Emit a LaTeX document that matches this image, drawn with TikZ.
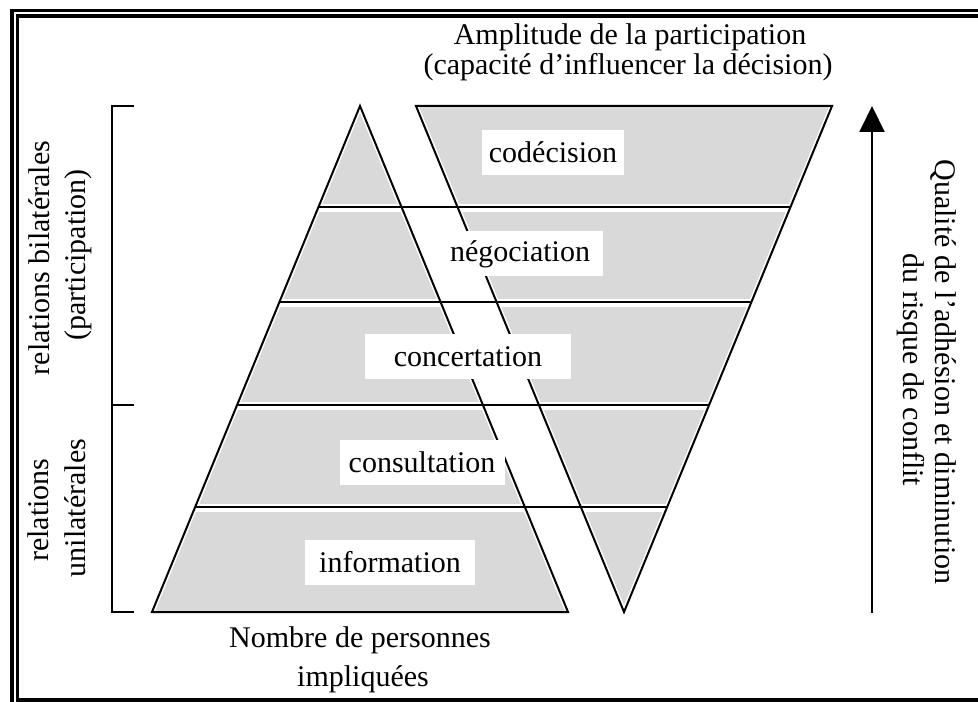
\documentclass[tikz,border=0pt]{standalone}
\usepackage{fontspec}
\setmainfont{Liberation Serif}
\usetikzlibrary{arrows.meta,calc}

\begin{document}
\begin{tikzpicture}[x=0.75pt,y=-0.75pt,
  outline/.style={line width=1.5pt, line join=miter},
  halo/.style={white, line width=3.75pt},
  lineglow/.style={white, line width=6pt},
  band/.style={fill=black!15},
  stepbox/.style={fill=white, inner sep=0pt, minimum height=33.75pt},
  lbl/.style={font=\fontsize{22.5}{25}\selectfont, inner sep=0pt},
]
\useasboundingbox (0,0) rectangle (978,702);
\fill[white] (0,0) rectangle (978,702);

% double frame
\draw[line width=2.6pt] (12,10.5) rectangle (992,714);
\draw[line width=2.6pt] (17.5,16) rectangle (985,700);

% the two shapes
\coordinate (A)  at (360,106);
\coordinate (BL) at (152,612);
\coordinate (BR) at (568,612);
\coordinate (TL) at (416,106);
\coordinate (TR) at (832,106);
\coordinate (V)  at (624,612);

\fill[band] (A) -- (BR) -- (BL) -- cycle;
\fill[band] (TL) -- (TR) -- (V) -- cycle;

% level separators
\coordinate (L1) at ($(A)!0.1996!(BL)$);  \coordinate (R1) at ($(TR)!0.1996!(V)$);
\coordinate (L2) at ($(A)!0.3883!(BL)$);  \coordinate (R2) at ($(TR)!0.3883!(V)$);
\coordinate (L3) at ($(A)!0.5909!(BL)$);  \coordinate (R3) at ($(TR)!0.5909!(V)$);
\coordinate (L4) at ($(A)!0.7925!(BL)$);  \coordinate (R4) at ($(TR)!0.7925!(V)$);

\foreach \i in {1,...,4}{
  \draw[lineglow] ([yshift=-0.75pt]L\i) -- ([yshift=-0.75pt]R\i);
}
\draw[halo] (BL) -- (A) -- (BR);
\draw[halo] (TL) -- (V) -- (TR);

\draw[outline] (BL) -- (A) -- (BR) -- cycle;
\draw[outline] (TL) -- (TR) -- (V) -- cycle;
\foreach \i in {1,...,4}{
  \draw[outline] (L\i) -- (R\i);
}

% level labels
\node[stepbox, lbl, minimum width=106.5pt] (codec) at (553,152.5) {codécision};
\node[stepbox, lbl, minimum width=123.75pt] (nego) at (520,254) {négociation};
\node[stepbox, lbl, minimum width=155pt] (conc) at (468,356.5) {concertation};
\node[stepbox, lbl, minimum width=123.75pt] (cons) at (422,462) {consultation};
\node[stepbox, lbl, minimum width=127.5pt] (info) at (390,562) {information};

% left bracket
\coordinate (bt) at (134,106);
\coordinate (bm) at (134,405);
\coordinate (bb) at (134,612);
\coordinate (st) at (112,106);
\coordinate (sm) at (112,405);
\coordinate (sb) at (112,612);
\draw[line width=1.5pt] (bt) -- (st) -- (sb) -- (bb);
\draw[line width=1.5pt] (sm) -- (bm);

% right arrow
\coordinate (ab) at (872,613);
\coordinate (at) at (872,106);
\draw[line width=1.5pt, -{Triangle[length=19.5pt,width=18.75pt]}] (ab) -- (at);

% titles
\node[lbl, anchor=base] (t1) at (630,45) {Amplitude de la participation};
\node[lbl, anchor=base] (t2) at (628,75) {(capacité d’influencer la décision)};
\node[lbl, anchor=base] (b1) at (360,647) {Nombre de personnes};
\node[lbl, anchor=base] (b2) at (363,686) {impliquées};

\node[lbl, rotate=90, anchor=base] (r1) at (49,258) {relations bilatérales};
\node[lbl, rotate=90, anchor=base] (r2) at (85,255) {(participation)};
\node[lbl, rotate=90, anchor=base] (u1) at (48,510) {relations};
\node[lbl, rotate=90, anchor=base] (u2) at (85,508) {unilatérales};

\node[lbl, rotate=-90, anchor=base] (q1) at (935,372) {Qualité de l’adhésion et diminution};
\node[lbl, rotate=-90, anchor=base] (q2) at (903,370) {du risque de conflit};
\end{tikzpicture}
\end{document}
